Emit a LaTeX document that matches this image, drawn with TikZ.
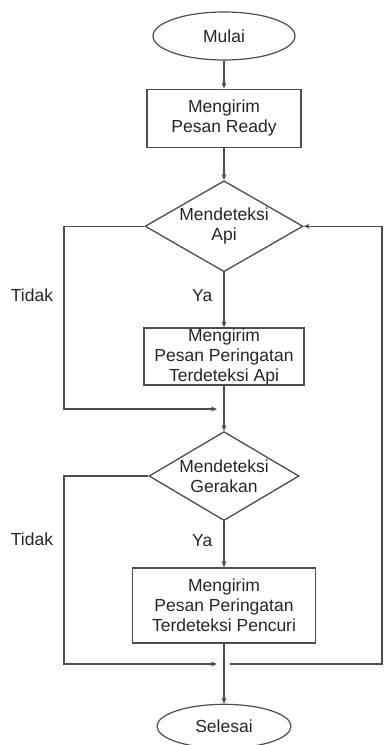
\documentclass[tikz,border=0pt]{standalone}
\usepackage{fontspec}
\setmainfont{Liberation Sans}
\usepackage{tikz}
\usetikzlibrary{arrows.meta,positioning,shapes.geometric}

\begin{document}
\begin{tikzpicture}[
  x=1pt,y=1pt,
  font=\fontsize{17.5}{20}\selectfont,
  every node/.style={text=black!85},
  term/.style={ellipse,draw=black!70,line width=1.2pt,inner sep=0pt,
               minimum width=142pt,minimum height=48pt},
  proc/.style={rectangle,draw=black!70,line width=1.5pt,inner sep=0pt,
               minimum height=58pt,align=center},
  cond/.style={diamond,draw=black!70,line width=1.3pt,inner sep=0pt,
               shape aspect=1.74,minimum width=156pt,minimum height=90pt,align=center},
  lbl/.style={inner sep=0pt},
  arr/.style={-{Stealth[length=6pt,width=5pt]},draw=black!70,line width=1.5pt}
]
  \useasboundingbox (0,0) rectangle (384,-745);

  \node[term] (mulai) at (224,-36) {Mulai};
  \node[proc,minimum width=154pt,below=28pt of mulai] (ready) {Mengirim\\Pesan Ready};
  \node[cond,minimum width=158pt,minimum height=91pt,below=32pt of ready] (api) {Mendeteksi\\Api};
  \node[proc,minimum width=160pt,minimum height=57pt,below=55pt of api] (kirimapi) {Mengirim\\Pesan Peringatan\\Terdeteksi Api};
  \node[cond,minimum width=150pt,minimum height=89pt,below=45pt of kirimapi] (gerak) {Mendeteksi\\Gerakan};
  \node[proc,minimum width=183pt,minimum height=75pt,below=46pt of gerak] (kirimcuri) {Mengirim\\Pesan Peringatan\\Terdeteksi Pencuri};
  \node[term,minimum width=134pt,minimum height=44pt,below=60pt of kirimcuri] (selesai) {Selesai};

  \coordinate (lx) at (64,0);
  \coordinate (rx) at (382,0);
  \coordinate (j1) at (217,-409);
  \coordinate (j2) at (217,-664);
  \coordinate (j2r) at (230,-664);

  \draw[arr] (mulai) -- (ready);
  \draw[arr] (ready) -- (api);
  \draw[arr] (api) -- node[lbl,left=11pt,pos=0.42] (ya1) {Ya} (kirimapi);
  \draw[arr] (kirimapi) -- (gerak);
  \draw[arr] (gerak) -- node[lbl,left=11pt,pos=0.42] (ya2) {Ya} (kirimcuri);
  \draw[arr] (kirimcuri) -- (selesai);

  % jalur tidak
  \draw[arr] (api.west) -- (api.west -| lx) |- (j1);
  \draw[arr] (gerak.west) -- (gerak.west -| lx) |- (j2);
  \draw[arr] (j2r) -- (j2r -| rx) |- (api.east);
  \node[lbl] (tidak1) at (32,-295) {Tidak};
  \node[lbl] (tidak2) at (32,-539) {Tidak};
\end{tikzpicture}
\end{document}
